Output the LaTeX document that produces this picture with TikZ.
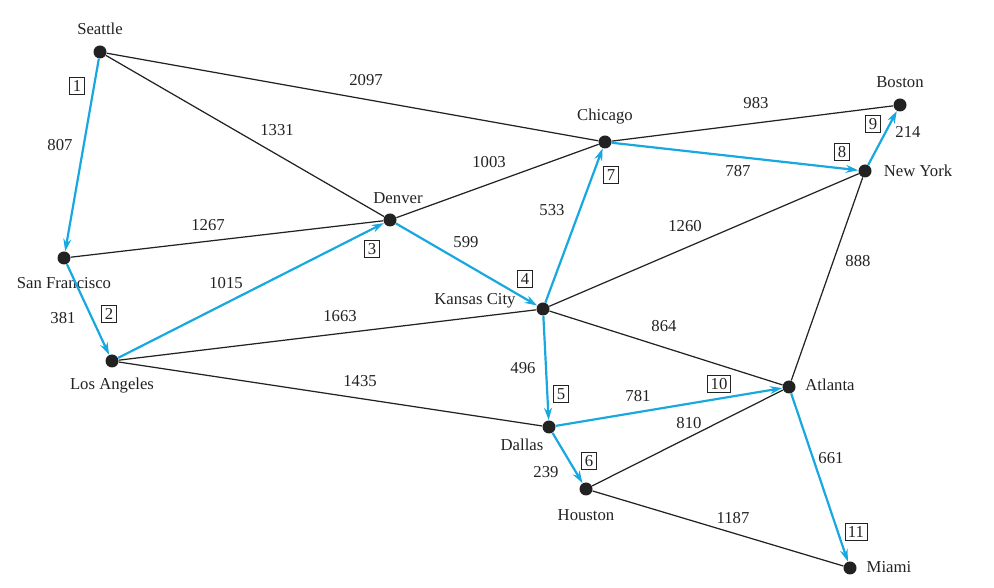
\documentclass[tikz,border=0pt]{standalone}
\usepackage{fontspec}
\setmainfont{Liberation Serif}
\usepackage{tikz}
\usetikzlibrary{arrows.meta,positioning}
\usepackage{xcolor}
\definecolor{treeblue}{HTML}{18A8E0}
\definecolor{inkgray}{HTML}{222222}

\begin{document}
\begin{tikzpicture}[
  city/.style={circle,fill=inkgray,inner sep=0pt,minimum size=0.26cm},
  cname/.style={font=\fontsize{9.5}{11}\selectfont,text=inkgray},
  wt/.style={font=\fontsize{9.5}{11}\selectfont,text=inkgray,inner sep=1pt},
  order/.style={draw=inkgray,line width=0.5pt,font=\fontsize{9.5}{11}\selectfont,
    text=inkgray,inner sep=1.7pt},
  road/.style={draw=inkgray,line width=0.7pt},
  tree/.style={draw=treeblue,line width=1.25pt,-{Stealth[length=7pt,width=4.5pt]}},
]
  \useasboundingbox (0,0) rectangle (19.88,-11.76);

  % cities
  \node[city] (sea) at (2.00,-1.04) {};
  \node[city] (sf)  at (1.28,-5.16) {};
  \node[city] (la)  at (2.24,-7.22) {};
  \node[city] (den) at (7.80,-4.40) {};
  \node[city] (chi) at (12.10,-2.84) {};
  \node[city] (bos) at (18.00,-2.10) {};
  \node[city] (ny)  at (17.30,-3.42) {};
  \node[city] (kc)  at (10.86,-6.18) {};
  \node[city] (dal) at (10.98,-8.54) {};
  \node[city] (hou) at (11.72,-9.78) {};
  \node[city] (atl) at (15.78,-7.74) {};
  \node[city] (mia) at (17.00,-11.36) {};

  \node[cname] (seaname) at (2.00,-0.58) {Seattle};
  \node[cname] (sfname)  at (1.28,-5.66) {San Francisco};
  \node[cname] (laname)  at (2.24,-7.72) {Los Angeles};
  \node[cname] (denname) at (7.96,-3.96) {Denver};
  \node[cname] (chiname) at (12.10,-2.34) {Chicago};
  \node[cname] (bosname) at (18.00,-1.64) {Boston};
  \node[cname] (nyname)  at (18.36,-3.42) {New York};
  \node[cname] (kcname)  at (9.50,-6.02) {Kansas City};
  \node[cname] (dalname) at (10.44,-8.90) {Dallas};
  \node[cname] (houname) at (11.72,-10.30) {Houston};
  \node[cname] (atlname) at (16.60,-7.70) {Atlanta};
  \node[cname] (mianame) at (17.78,-11.34) {Miami};

  % roads not in the tree
  \draw[road] (sea) -- (chi);
  \draw[road] (sea) -- (den);
  \draw[road] (sf) -- (den);
  \draw[road] (den) -- (chi);
  \draw[road] (chi) -- (bos);
  \draw[road] (kc) -- (ny);
  \draw[road] (ny) -- (atl);
  \draw[road] (kc) -- (atl);
  \draw[road] (la) -- (kc);
  \draw[road] (la) -- (dal);
  \draw[road] (hou) -- (atl);
  \draw[road] (hou) -- (mia);

  % tree edges
  \draw[tree] (sea) -- (sf);
  \draw[tree] (sf) -- (la);
  \draw[tree] (la) -- (den);
  \draw[tree] (den) -- (kc);
  \draw[tree] (kc) -- (dal);
  \draw[tree] (dal) -- (hou);
  \draw[tree] (kc) -- (chi);
  \draw[tree] (chi) -- (ny);
  \draw[tree] (ny) -- (bos);
  \draw[tree] (dal) -- (atl);
  \draw[tree] (atl) -- (mia);

  % distances
  \node[wt] (w807)  at (1.20,-2.90) {807};
  \node[wt] (w1331) at (5.54,-2.60) {1331};
  \node[wt] (w2097) at (7.32,-1.60) {2097};
  \node[wt] (w1267) at (4.16,-4.50) {1267};
  \node[wt] (w1015) at (4.52,-5.66) {1015};
  \node[wt] (w381)  at (1.26,-6.36) {381};
  \node[wt] (w1663) at (6.80,-6.32) {1663};
  \node[wt] (w1435) at (7.20,-7.62) {1435};
  \node[wt] (w599)  at (9.32,-4.84) {599};
  \node[wt] (w533)  at (11.04,-4.20) {533};
  \node[wt] (w1003) at (9.78,-3.24) {1003};
  \node[wt] (w983)  at (15.12,-2.06) {983};
  \node[wt] (w787)  at (14.76,-3.42) {787};
  \node[wt] (w214)  at (18.16,-2.64) {214};
  \node[wt] (w1260) at (13.70,-4.52) {1260};
  \node[wt] (w888)  at (17.16,-5.22) {888};
  \node[wt] (w864)  at (13.28,-6.52) {864};
  \node[wt] (w496)  at (10.46,-7.36) {496};
  \node[wt] (w781)  at (12.76,-7.92) {781};
  \node[wt] (w810)  at (13.78,-8.46) {810};
  \node[wt] (w239)  at (10.92,-9.44) {239};
  \node[wt] (w661)  at (16.62,-9.16) {661};
  \node[wt] (w1187) at (14.66,-10.36) {1187};

  % order in which edges join the tree
  \node[order] (o1)  at (1.54,-1.72) {1};
  \node[order] (o2)  at (2.18,-6.28) {2};
  \node[order] (o3)  at (7.44,-4.98) {3};
  \node[order] (o4)  at (10.50,-5.58) {4};
  \node[order] (o5)  at (11.22,-7.88) {5};
  \node[order] (o6)  at (11.78,-9.22) {6};
  \node[order] (o7)  at (12.22,-3.50) {7};
  \node[order] (o8)  at (16.84,-3.04) {8};
  \node[order] (o9)  at (17.46,-2.48) {9};
  \node[order] (o10) at (14.38,-7.68) {10};
  \node[order] (o11) at (17.12,-10.64) {11};
\end{tikzpicture}
\end{document}
